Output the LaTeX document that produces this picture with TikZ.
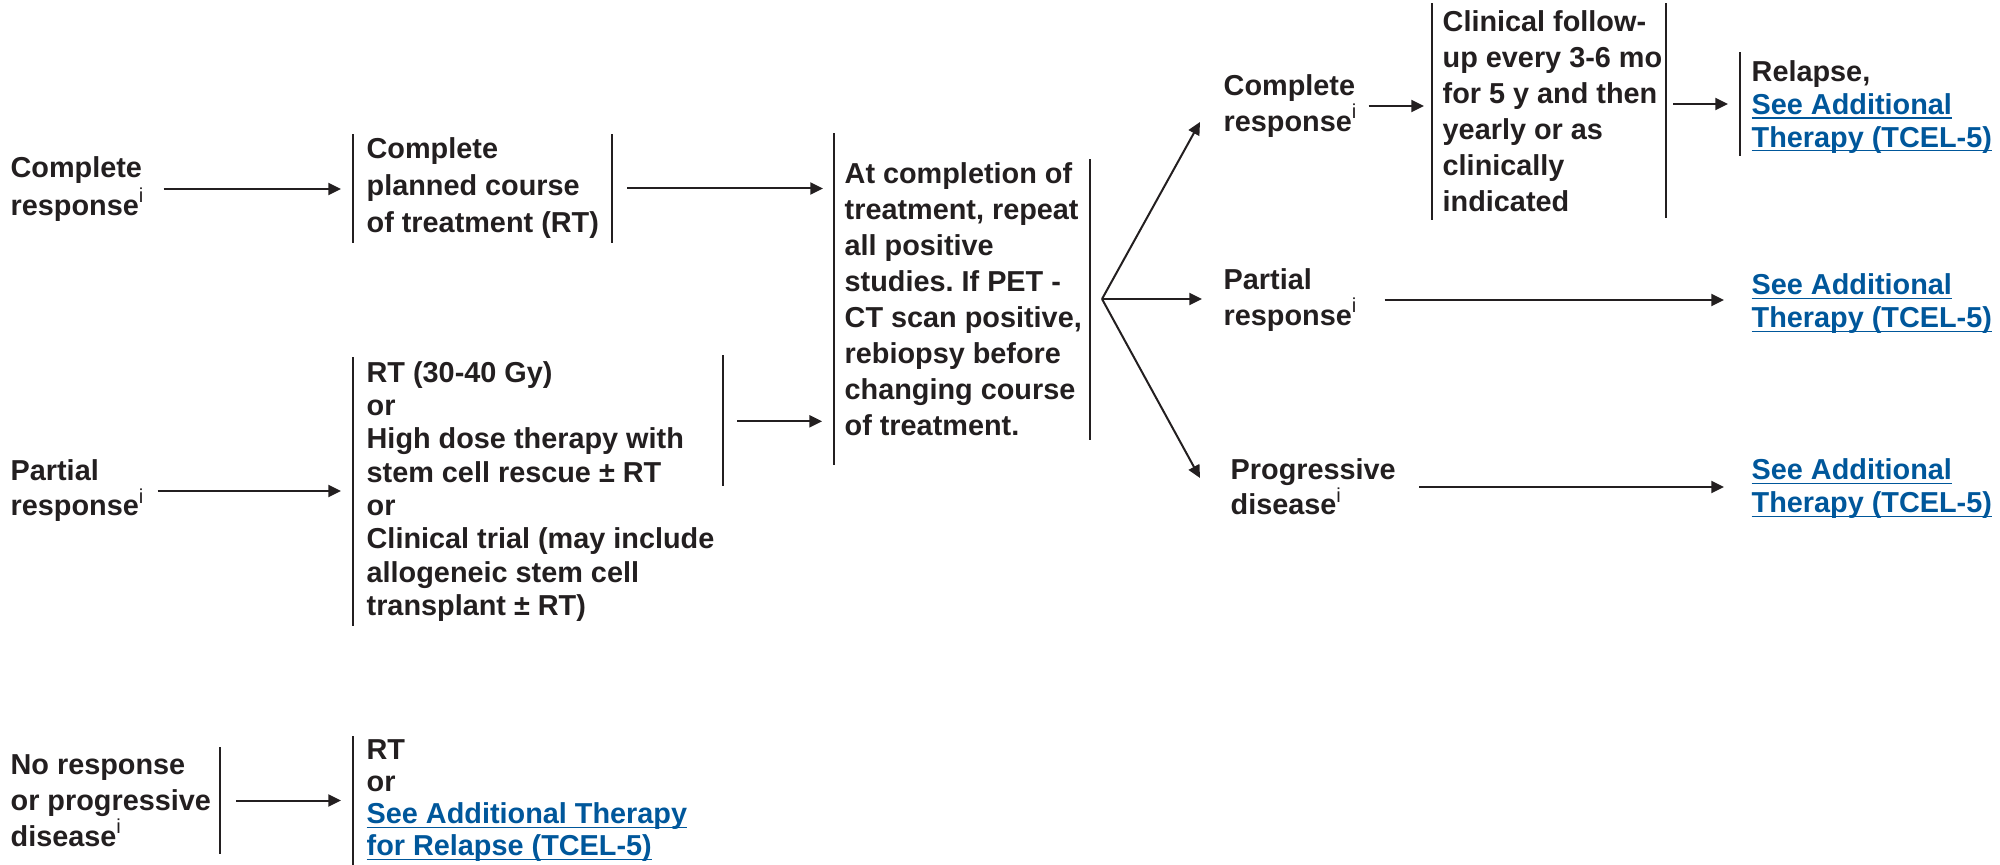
\documentclass[tikz,border=0pt]{standalone}
\usepackage{fontspec}
\setmainfont{Liberation Sans}
\usetikzlibrary{arrows.meta,calc}

\definecolor{ink}{RGB}{35,31,32}
\definecolor{linkblue}{RGB}{0,87,155}

\frenchspacing
% bold text at a fixed size, with a chosen line spacing
\newcommand\fsz[1]{\fontsize{8.65pt}{#1pt}\selectfont\bfseries}
% footnote marker
\newcommand\fnote{\textsuperscript{\mdseries i}}
% underlined blue cross-reference
\newcommand\lnk[1]{\leavevmode{\color{linkblue}\setbox0\hbox{#1}\rlap{\rule[-1.3pt]{\wd0}{0.5pt}}\box0}}

\tikzset{
  lbl/.style={inner sep=0pt, anchor=west, align=left, text=ink, font=\fsz{10.8}},
  box/.style={inner ysep=0pt, anchor=west, align=left, text=ink, font=\fsz{10.8}},
  bar/.style={draw=ink, line width=0.5pt},
  arr/.style={draw=ink, line width=0.6pt, -{Triangle[length=3.8pt,width=3.6pt]}},
}

\begin{document}
\begin{tikzpicture}[x=0.3pt, y=-0.3pt]
\useasboundingbox (0,0) rectangle (2000,865);

% ---- left column: response after initial therapy
\node[lbl, font=\fsz{11.2}] (cr1) at (10,189) {Complete\\response\fnote};
\node[lbl, font=\fsz{10.5}] (pr1) at (10,491) {Partial\\response\fnote};
\node[box, inner xsep=0pt, minimum height=31.5pt] (nr) at (10,800.5)
  {No response\\or progressive\\disease\fnote};

% ---- treatment boxes (node west = left bar)
\node[box, font=\fsz{11.1}, inner xsep=3.9pt, minimum height=32.1pt] (b1) at (353,188.5)
  {Complete\\planned course\\of treatment (RT)};
\node[box, font=\fsz{10.0}, inner xsep=3.9pt, minimum height=80.1pt] (b2) at (353,491.5)
  {RT (30-40 Gy)\\or\\High dose therapy with\\stem cell rescue \textpm{} RT\\or\\Clinical trial (may include\\allogeneic stem cell\\transplant \textpm{} RT)};
\node[box, font=\fsz{9.6}, inner xsep=3.9pt, minimum height=38.4pt] (b3) at (353,801)
  {RT\\or\\\lnk{See Additional Therapy}\\\lnk{for Relapse (TCEL-5)}};

% ---- restaging box
\node[box, inner xsep=3pt, minimum height=99pt] (cb) at (834,299)
  {At completion of\\treatment, repeat\\all positive\\studies. If PET -\\CT scan positive,\\rebiopsy before\\changing course\\of treatment.};

% ---- right column: response after completion
\node[lbl] (cr2) at (1223,106) {Complete\\response\fnote};
\node[lbl] (pr2) at (1223,300) {Partial\\response\fnote};
\node[lbl, font=\fsz{10.5}] (pd) at (1230,487) {Progressive\\disease\fnote};

\node[box, inner xsep=3pt, minimum height=64.5pt] (fu) at (1432,111.5)
  {Clinical follow-\\up every 3-6 mo\\for 5 y and then\\yearly or as\\clinically\\indicated};
\node[box, font=\fsz{9.8}, inner xsep=3.3pt, minimum height=30.6pt] (rl) at (1740,107)
  {Relapse,\\\lnk{See Additional}\\\lnk{Therapy (TCEL-5)}};
\node[lbl, font=\fsz{9.9}] (sa1) at (1751,304) {\lnk{See Additional}\\\lnk{Therapy (TCEL-5)}};
\node[lbl, font=\fsz{9.9}] (sa2) at (1751,489) {\lnk{See Additional}\\\lnk{Therapy (TCEL-5)}};

% ---- right-hand bar positions
\coordinate (nrr) at ([xshift=63pt]nr.west);
\coordinate (b1r) at ([xshift=77.7pt]b1.west);
\coordinate (b2r) at ([xshift=111pt,yshift=-19.2pt]b2.north west);
\coordinate (cbr) at ([xshift=76.8pt]cb.west);
\coordinate (fur) at ([xshift=70.2pt]fu.west);
\coordinate (rlb) at ([yshift=0.9pt]rl.west);

% ---- side bars of the boxes
\draw[bar] (nrr |- nr.north) -- (nrr |- nr.south);
\draw[bar] (b1.north west) -- (b1.south west);
\draw[bar] (b1r |- b1.north) -- (b1r |- b1.south);
\draw[bar] (b2.north west) -- (b2.south west);
\draw[bar] ([yshift=0.6pt]b2r |- b2.north) -- ([yshift=-38.7pt]b2r |- b2.north);
\draw[bar] (b3.north west) -- (b3.south west);
\draw[bar] (cb.north west) -- (cb.south west);
\draw[bar] ([yshift=-7.8pt]cbr |- cb.north) -- ([yshift=7.5pt]cbr |- cb.south);
\draw[bar] (fu.north west) -- (fu.south west);
\draw[bar] (fur |- fu.north) -- ([yshift=0.6pt]fur |- fu.south);
\draw[bar] ([yshift=0.9pt]rl.north west) -- ([yshift=0.9pt]rl.south west);

% ---- connectors
\coordinate (fk) at ([xshift=3.6pt]cbr);

\draw[arr, shorten <=5.4pt, shorten >=3.6pt] (cr1.east) -- (cr1.east -| b1.west);
\draw[arr, shorten <=4.5pt, shorten >=3.3pt] (b1r) -- (b1r -| cb.west);
\draw[arr, shorten <=3.6pt, shorten >=3.6pt] (pr1.east) -- (pr1.east -| b2.west);
\draw[arr, shorten <=4.2pt, shorten >=3.6pt] (b2r) -- (b2r -| cb.west);
\draw[arr, shorten <=4.8pt, shorten >=3.6pt] (nrr) -- (nrr -| b3.west);

\draw[arr] (fk) -- ($(cr2.west)+(-23,16)$);
\draw[arr, shorten >=6.3pt] (fk) -- (fk -| pr2.west);
\draw[arr] (fk) -- ($(pd.west)+(-30,-9)$);

\draw[arr, shorten <=3pt, shorten >=2.4pt] (cr2.east) -- (cr2.east -| fu.west);
\draw[arr, shorten <=2.1pt, shorten >=3.6pt] (fur |- rlb) -- (rlb);
\draw[arr, shorten <=7.8pt, shorten >=8.1pt] (pr2.east) -- (pr2.east -| sa1.west);
\draw[arr, shorten <=6.9pt, shorten >=8.1pt] (pd.east) -- (pd.east -| sa2.west);
\end{tikzpicture}
\end{document}
